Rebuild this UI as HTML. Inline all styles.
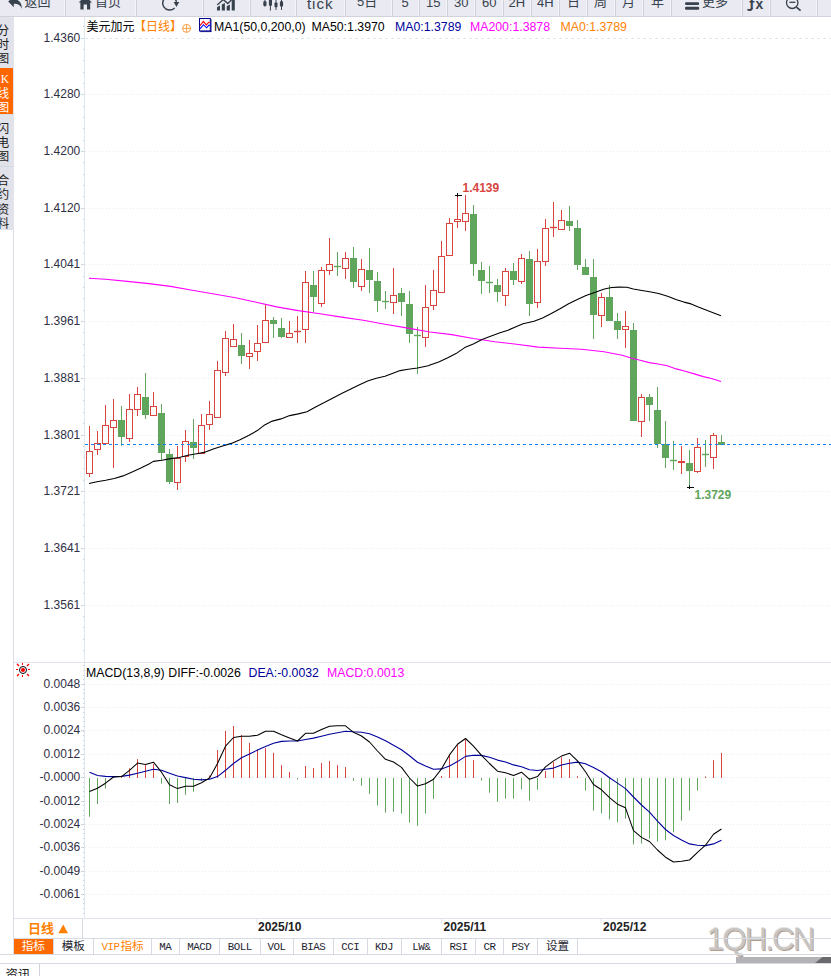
<!DOCTYPE html>
<html lang="zh-CN"><head><meta charset="utf-8"><title>美元加元 日线</title>
<style>
html,body{margin:0;padding:0;background:#fff;}
body{width:831px;height:976px;overflow:hidden;position:relative;font-family:"Liberation Sans", "Noto Sans CJK SC", sans-serif;}
#root{position:absolute;left:0;top:0;width:831px;height:976px;overflow:hidden;background:#fff;}
.abs{position:absolute;white-space:nowrap;}
svg.chart{position:absolute;left:0;top:0;}
.tb{position:absolute;left:0;top:0;width:831px;height:16px;background:#eaeaf2;border-bottom:1px solid #d2d2dc;overflow:hidden;}
.tb .sep{position:absolute;top:0;width:1px;height:17px;background:#d0d0da;box-shadow:-1px 0 0 #f4f4fa;}
.tb .t{position:absolute;font-size:13px;line-height:14px;color:#38424e;white-space:nowrap;}
.side{position:absolute;left:0;top:17px;width:14px;height:213px;background:#e2e2ea;overflow:hidden;}
.side .v{position:absolute;left:-3px;width:12px;font-family:"Liberation Sans", "Noto Sans CJK SC", sans-serif;font-size:12.2px;line-height:12px;color:#1c2430;text-align:center;}
.yl{position:absolute;left:30px;width:50.3px;text-align:right;font-size:12px;line-height:14px;color:#2f2f45;white-space:nowrap;}
.lg{position:absolute;top:19px;font-size:12.3px;line-height:16px;white-space:nowrap;color:#000;}
.ml{position:absolute;top:664.5px;font-size:12.3px;line-height:16px;white-space:nowrap;color:#000;}
.dt{position:absolute;top:919.5px;font-size:12px;line-height:14px;font-weight:bold;color:#222;white-space:nowrap;}
.tabs{z-index:2;position:absolute;left:14px;top:938px;height:15px;border-top:1px solid #d6dae2;border-bottom:1px solid #d6dae2;width:817px;}
.tab{position:absolute;top:0;height:15px;border-right:1px solid #d6dae2;box-sizing:border-box;text-align:center;font-family:"Liberation Mono", "Noto Serif CJK SC", monospace;font-size:10.8px;letter-spacing:-0.48px;line-height:16.8px;color:#1c2430;white-space:nowrap;background:#fff;}
.tab.cj{font-family:"Liberation Sans", "Noto Sans CJK SC", sans-serif;font-size:11.6px;letter-spacing:0;line-height:13.4px;}
</style></head><body><div id="root">
<div class="tb">
<div class="sep" style="left:65px"></div>
<div class="sep" style="left:136px"></div>
<div class="sep" style="left:203px"></div>
<div class="sep" style="left:250px"></div>
<div class="sep" style="left:296px"></div>
<div class="sep" style="left:345px"></div>
<div class="sep" style="left:392px"></div>
<div class="sep" style="left:419px"></div>
<div class="sep" style="left:447px"></div>
<div class="sep" style="left:475px"></div>
<div class="sep" style="left:503px"></div>
<div class="sep" style="left:531px"></div>
<div class="sep" style="left:559px"></div>
<div class="sep" style="left:587px"></div>
<div class="sep" style="left:615px"></div>
<div class="sep" style="left:643px"></div>
<div class="sep" style="left:671px"></div>
<div class="sep" style="left:742px"></div>
<div class="sep" style="left:770px"></div>
<div class="sep" style="left:817px"></div>
<div class="t" style="left:24.5px;top:-4.7px">返回</div>
<div class="t" style="left:95px;top:-4.7px">首页</div>
<div class="t" style="left:357px;top:-4.7px">5日</div>
<div class="t" style="left:567px;top:-4.7px">日</div>
<div class="t" style="left:594px;top:-4.7px">周</div>
<div class="t" style="left:622px;top:-4.7px">月</div>
<div class="t" style="left:651px;top:-4.7px">年</div>
<div class="t" style="left:702px;top:-4.7px">更多</div>
<div class="t" style="left:307px;top:-4.0px;font-size:15.2px;letter-spacing:0.9px;margin-top:0.5px;">tick</div>
<div class="t" style="left:401.5px;top:-4.0px;font-size:13px;">5</div>
<div class="t" style="left:426px;top:-4.0px;font-size:13px;">15</div>
<div class="t" style="left:454px;top:-4.0px;font-size:13px;">30</div>
<div class="t" style="left:482px;top:-4.0px;font-size:13px;">60</div>
<div class="t" style="left:508.5px;top:-4.0px;font-size:13px;">2H</div>
<div class="t" style="left:537px;top:-4.0px;font-size:13px;">4H</div>
<svg class="abs" style="left:0;top:0" width="831" height="16" viewBox="0 0 831 16">
<g fill="#38424e" stroke="none">
<!-- back arrow -->
<path d="M8.2 1.6 L13.8 -3.6 L13.8 -0.6 C18.5 -0.8 22 2.2 21.8 8.8 C20.6 5 17.8 3.6 13.8 3.8 L13.8 7.2 Z"/>
<!-- home -->
<path d="M78.6 2.6 L85.3 -4 L92 2.6 L90.2 2.6 L90.2 9.5 L87 9.5 L87 4.6 L83.6 4.6 L83.6 9.5 L80.4 9.5 L80.4 2.6 Z"/>
<!-- bar chart icon -->
<path d="M217 7.3L220 5.6V10.6H217Z"/><path d="M221.8 4.4L224.9 3V10.6H221.8Z"/><path d="M226.7 6.2L229.9 4.6V10.6H226.7Z"/><path d="M231.7 0.6L234.8 -1.4V10.6H231.7Z"/>
<path d="M216.8 4.6 L223.2 -1.4 L227.8 2.6 L234.4 -4 L235.4 -3 L227.8 4.4 L223.2 0.4 L217.6 5.6 Z"/>
<!-- candle icon -->
<rect x="263.3" y="1.2" width="3.2" height="4.9" rx="0.8"/><rect x="264.4" y="-6" width="1" height="12.7"/>
<rect x="268.9" y="-4" width="3.1" height="9.8" rx="0.8"/><rect x="269.9" y="-6" width="1" height="16.6"/>
<rect x="274.5" y="2.4" width="3" height="4.8" rx="0.8"/><rect x="275.5" y="-6" width="1" height="15.9"/>
<rect x="279.9" y="1.2" width="3.2" height="5.4" rx="0.8"/><rect x="281" y="-6" width="1" height="15.9"/>
<!-- more icon -->
<rect x="685" y="2.2" width="14.2" height="2.8" rx="1.3"/><rect x="685" y="6.7" width="14.2" height="3" rx="1.3"/>
</g>
<g fill="none" stroke="#38424e">
<!-- refresh -->
<path d="M174.6 8 A6.9 6.9 0 1 1 176.4 1.9" stroke-width="1.5"/>
<path d="M173.6 1.9 L179.2 1.9 L176.5 6.9 Z" fill="#38424e" stroke="none"/>
<path d="M751.8 8 C751.8 10.2 750 10.4 747.4 9.6" stroke-width="2"/>
<!-- zoom out -->
<circle cx="792.2" cy="2.8" r="5.7" stroke-width="1.3"/>
<path d="M796.4 7.2 L800.6 10.6" stroke-width="1.7"/>
<path d="M789.4 2.3 H795.4" stroke-width="1.3"/>
</g>
</svg>
<div class="t" style="left:749.2px;top:-3.3px;font-size:15px;font-weight:bold;">f</div>
<div class="t" style="left:755.4px;top:-1.6px;font-size:13.8px;font-weight:bold">x</div>
</div><div class="side">
<div class="abs" style="left:0;top:51px;width:13px;height:46px;background:#ff6600"></div>
<div class="abs" style="left:0;top:149px;width:14px;height:1px;background:#d3dae3"></div>
<div class="abs" style="left:0;top:97px;width:14px;height:1px;background:#d8dee6"></div>
<div class="v" style="top:7.7px;color:#222;">分</div>
<div class="v" style="top:21.900000000000002px;color:#222;">时</div>
<div class="v" style="top:35.7px;color:#222;">图</div>
<div class="v" style="top:70.7px;color:#fff;">线</div>
<div class="v" style="top:84.7px;color:#fff;">图</div>
<div class="v" style="top:55.8px;left:0.8px;width:7px;color:#fff;font-family:'Liberation Serif',serif;font-size:11.5px;">K</div>
<div class="v" style="top:105.7px;color:#222;">闪</div>
<div class="v" style="top:120.00000000000001px;color:#222;">电</div>
<div class="v" style="top:133.89999999999998px;color:#222;">图</div>
<div class="v" style="top:157.7px;color:#222;">合</div>
<div class="v" style="top:172.1px;color:#222;">约</div>
<div class="v" style="top:186.7px;color:#222;">资</div>
<div class="v" style="top:200.7px;color:#222;">料</div>
</div><svg class="chart" width="831" height="976" viewBox="0 0 831 976" shape-rendering="auto"><line x1="85" y1="38.5" x2="831" y2="38.5" stroke="#dfe8ee" stroke-width="1" stroke-dasharray="3 3"/>
<line x1="85" y1="94.5" x2="831" y2="94.5" stroke="#e8ecf0" stroke-width="1" stroke-dasharray="1 2"/>
<line x1="85" y1="151.5" x2="831" y2="151.5" stroke="#e8ecf0" stroke-width="1" stroke-dasharray="1 2"/>
<line x1="85" y1="208.5" x2="831" y2="208.5" stroke="#e8ecf0" stroke-width="1" stroke-dasharray="1 2"/>
<line x1="85" y1="264.5" x2="831" y2="264.5" stroke="#e8ecf0" stroke-width="1" stroke-dasharray="1 2"/>
<line x1="85" y1="321.5" x2="831" y2="321.5" stroke="#e8ecf0" stroke-width="1" stroke-dasharray="1 2"/>
<line x1="85" y1="378.5" x2="831" y2="378.5" stroke="#e8ecf0" stroke-width="1" stroke-dasharray="1 2"/>
<line x1="85" y1="435.5" x2="831" y2="435.5" stroke="#e8ecf0" stroke-width="1" stroke-dasharray="1 2"/>
<line x1="85" y1="491.5" x2="831" y2="491.5" stroke="#e8ecf0" stroke-width="1" stroke-dasharray="1 2"/>
<line x1="85" y1="548.5" x2="831" y2="548.5" stroke="#e8ecf0" stroke-width="1" stroke-dasharray="1 2"/>
<line x1="85" y1="605.5" x2="831" y2="605.5" stroke="#e8ecf0" stroke-width="1" stroke-dasharray="1 2"/>
<line x1="84.5" y1="17" x2="84.5" y2="918" stroke="#e0e8ef" stroke-width="1"/>
<line x1="13.5" y1="230" x2="13.5" y2="954" stroke="#d9dde5" stroke-width="1"/>
<line x1="81" y1="38.5" x2="84" y2="38.5" stroke="#d0d5dc" stroke-width="1"/>
<line x1="81" y1="94.5" x2="84" y2="94.5" stroke="#d0d5dc" stroke-width="1"/>
<line x1="81" y1="151.5" x2="84" y2="151.5" stroke="#d0d5dc" stroke-width="1"/>
<line x1="81" y1="208.5" x2="84" y2="208.5" stroke="#d0d5dc" stroke-width="1"/>
<line x1="81" y1="264.5" x2="84" y2="264.5" stroke="#d0d5dc" stroke-width="1"/>
<line x1="81" y1="321.5" x2="84" y2="321.5" stroke="#d0d5dc" stroke-width="1"/>
<line x1="81" y1="378.5" x2="84" y2="378.5" stroke="#d0d5dc" stroke-width="1"/>
<line x1="81" y1="435.5" x2="84" y2="435.5" stroke="#d0d5dc" stroke-width="1"/>
<line x1="81" y1="491.5" x2="84" y2="491.5" stroke="#d0d5dc" stroke-width="1"/>
<line x1="81" y1="548.5" x2="84" y2="548.5" stroke="#d0d5dc" stroke-width="1"/>
<line x1="81" y1="605.5" x2="84" y2="605.5" stroke="#d0d5dc" stroke-width="1"/>
<rect x="83" y="49" width="1" height="1" fill="#c5cbd3"/>
<rect x="83" y="60" width="1" height="1" fill="#c5cbd3"/>
<rect x="83" y="72" width="1" height="1" fill="#c5cbd3"/>
<rect x="83" y="83" width="1" height="1" fill="#c5cbd3"/>
<rect x="83" y="106" width="1" height="1" fill="#c5cbd3"/>
<rect x="83" y="117" width="1" height="1" fill="#c5cbd3"/>
<rect x="83" y="128" width="1" height="1" fill="#c5cbd3"/>
<rect x="83" y="140" width="1" height="1" fill="#c5cbd3"/>
<rect x="83" y="162" width="1" height="1" fill="#c5cbd3"/>
<rect x="83" y="174" width="1" height="1" fill="#c5cbd3"/>
<rect x="83" y="185" width="1" height="1" fill="#c5cbd3"/>
<rect x="83" y="196" width="1" height="1" fill="#c5cbd3"/>
<rect x="83" y="219" width="1" height="1" fill="#c5cbd3"/>
<rect x="83" y="230" width="1" height="1" fill="#c5cbd3"/>
<rect x="83" y="242" width="1" height="1" fill="#c5cbd3"/>
<rect x="83" y="253" width="1" height="1" fill="#c5cbd3"/>
<rect x="83" y="276" width="1" height="1" fill="#c5cbd3"/>
<rect x="83" y="287" width="1" height="1" fill="#c5cbd3"/>
<rect x="83" y="298" width="1" height="1" fill="#c5cbd3"/>
<rect x="83" y="310" width="1" height="1" fill="#c5cbd3"/>
<rect x="83" y="332" width="1" height="1" fill="#c5cbd3"/>
<rect x="83" y="344" width="1" height="1" fill="#c5cbd3"/>
<rect x="83" y="355" width="1" height="1" fill="#c5cbd3"/>
<rect x="83" y="366" width="1" height="1" fill="#c5cbd3"/>
<rect x="83" y="389" width="1" height="1" fill="#c5cbd3"/>
<rect x="83" y="400" width="1" height="1" fill="#c5cbd3"/>
<rect x="83" y="412" width="1" height="1" fill="#c5cbd3"/>
<rect x="83" y="423" width="1" height="1" fill="#c5cbd3"/>
<rect x="83" y="446" width="1" height="1" fill="#c5cbd3"/>
<rect x="83" y="457" width="1" height="1" fill="#c5cbd3"/>
<rect x="83" y="468" width="1" height="1" fill="#c5cbd3"/>
<rect x="83" y="480" width="1" height="1" fill="#c5cbd3"/>
<rect x="83" y="502" width="1" height="1" fill="#c5cbd3"/>
<rect x="83" y="514" width="1" height="1" fill="#c5cbd3"/>
<rect x="83" y="525" width="1" height="1" fill="#c5cbd3"/>
<rect x="83" y="536" width="1" height="1" fill="#c5cbd3"/>
<rect x="83" y="559" width="1" height="1" fill="#c5cbd3"/>
<rect x="83" y="570" width="1" height="1" fill="#c5cbd3"/>
<rect x="83" y="582" width="1" height="1" fill="#c5cbd3"/>
<rect x="83" y="593" width="1" height="1" fill="#c5cbd3"/>
<rect x="83" y="616" width="1" height="1" fill="#c5cbd3"/>
<rect x="83" y="627" width="1" height="1" fill="#c5cbd3"/>
<rect x="83" y="639" width="1" height="1" fill="#c5cbd3"/>
<rect x="83" y="650" width="1" height="1" fill="#c5cbd3"/>
<rect x="83" y="26" width="1" height="1" fill="#c5cbd3"/>
<line x1="89.5" y1="426.0" x2="89.5" y2="451.0" stroke="#d8453f" stroke-width="1"/>
<line x1="89.5" y1="474.0" x2="89.5" y2="477.0" stroke="#d8453f" stroke-width="1"/>
<rect x="86.5" y="451.5" width="6" height="22.0" fill="none" stroke="#d8453f" stroke-width="1"/>
<line x1="97.5" y1="431.0" x2="97.5" y2="443.0" stroke="#d8453f" stroke-width="1"/>
<line x1="97.5" y1="450.0" x2="97.5" y2="455.0" stroke="#d8453f" stroke-width="1"/>
<rect x="94.5" y="443.5" width="6" height="6.0" fill="none" stroke="#d8453f" stroke-width="1"/>
<line x1="105.5" y1="405.0" x2="105.5" y2="425.0" stroke="#d8453f" stroke-width="1"/>
<rect x="102.5" y="425.5" width="6" height="18.0" fill="none" stroke="#d8453f" stroke-width="1"/>
<line x1="113.5" y1="399.0" x2="113.5" y2="420.0" stroke="#d8453f" stroke-width="1"/>
<line x1="113.5" y1="428.0" x2="113.5" y2="468.0" stroke="#d8453f" stroke-width="1"/>
<rect x="110.5" y="420.5" width="6" height="7.0" fill="none" stroke="#d8453f" stroke-width="1"/>
<line x1="121.5" y1="406.0" x2="121.5" y2="446.0" stroke="#60a55c" stroke-width="1"/>
<rect x="118.0" y="420.0" width="7" height="17.0" fill="#60a55c"/>
<line x1="129.5" y1="394.0" x2="129.5" y2="409.0" stroke="#d8453f" stroke-width="1"/>
<line x1="129.5" y1="439.0" x2="129.5" y2="442.0" stroke="#d8453f" stroke-width="1"/>
<rect x="126.5" y="409.5" width="6" height="29.0" fill="none" stroke="#d8453f" stroke-width="1"/>
<line x1="137.5" y1="387.0" x2="137.5" y2="394.0" stroke="#d8453f" stroke-width="1"/>
<line x1="137.5" y1="410.0" x2="137.5" y2="416.0" stroke="#d8453f" stroke-width="1"/>
<rect x="134.5" y="394.5" width="6" height="15.0" fill="none" stroke="#d8453f" stroke-width="1"/>
<line x1="145.5" y1="373.0" x2="145.5" y2="419.0" stroke="#60a55c" stroke-width="1"/>
<rect x="142.0" y="397.0" width="7" height="18.0" fill="#60a55c"/>
<line x1="153.5" y1="392.0" x2="153.5" y2="406.0" stroke="#d8453f" stroke-width="1"/>
<rect x="150.5" y="406.5" width="6" height="9.0" fill="none" stroke="#d8453f" stroke-width="1"/>
<line x1="161.5" y1="404.0" x2="161.5" y2="460.0" stroke="#60a55c" stroke-width="1"/>
<rect x="158.0" y="413.0" width="7" height="40.0" fill="#60a55c"/>
<line x1="169.5" y1="449.0" x2="169.5" y2="484.0" stroke="#60a55c" stroke-width="1"/>
<rect x="166.0" y="454.0" width="7" height="28.0" fill="#60a55c"/>
<line x1="177.5" y1="446.0" x2="177.5" y2="458.0" stroke="#d8453f" stroke-width="1"/>
<line x1="177.5" y1="483.0" x2="177.5" y2="490.0" stroke="#d8453f" stroke-width="1"/>
<rect x="174.5" y="458.5" width="6" height="24.0" fill="none" stroke="#d8453f" stroke-width="1"/>
<line x1="185.5" y1="430.0" x2="185.5" y2="441.0" stroke="#d8453f" stroke-width="1"/>
<line x1="185.5" y1="457.0" x2="185.5" y2="462.0" stroke="#d8453f" stroke-width="1"/>
<rect x="182.5" y="441.5" width="6" height="15.0" fill="none" stroke="#d8453f" stroke-width="1"/>
<line x1="193.5" y1="419.0" x2="193.5" y2="459.0" stroke="#60a55c" stroke-width="1"/>
<rect x="190.0" y="442.0" width="7" height="6.0" fill="#60a55c"/>
<line x1="201.5" y1="414.0" x2="201.5" y2="425.0" stroke="#d8453f" stroke-width="1"/>
<rect x="198.5" y="425.5" width="6" height="28.0" fill="none" stroke="#d8453f" stroke-width="1"/>
<line x1="209.5" y1="401.0" x2="209.5" y2="414.0" stroke="#d8453f" stroke-width="1"/>
<line x1="209.5" y1="425.0" x2="209.5" y2="430.0" stroke="#d8453f" stroke-width="1"/>
<rect x="206.5" y="414.5" width="6" height="10.0" fill="none" stroke="#d8453f" stroke-width="1"/>
<line x1="217.5" y1="361.0" x2="217.5" y2="370.0" stroke="#d8453f" stroke-width="1"/>
<rect x="214.5" y="370.5" width="6" height="47.0" fill="none" stroke="#d8453f" stroke-width="1"/>
<line x1="225.5" y1="331.0" x2="225.5" y2="338.0" stroke="#d8453f" stroke-width="1"/>
<line x1="225.5" y1="373.0" x2="225.5" y2="376.0" stroke="#d8453f" stroke-width="1"/>
<rect x="222.5" y="338.5" width="6" height="34.0" fill="none" stroke="#d8453f" stroke-width="1"/>
<line x1="233.5" y1="324.0" x2="233.5" y2="339.0" stroke="#d8453f" stroke-width="1"/>
<rect x="230.5" y="339.5" width="6" height="7.0" fill="none" stroke="#d8453f" stroke-width="1"/>
<line x1="241.5" y1="333.0" x2="241.5" y2="364.0" stroke="#60a55c" stroke-width="1"/>
<rect x="238.0" y="345.0" width="7" height="11.0" fill="#60a55c"/>
<line x1="249.5" y1="340.0" x2="249.5" y2="353.0" stroke="#d8453f" stroke-width="1"/>
<line x1="249.5" y1="357.0" x2="249.5" y2="369.0" stroke="#d8453f" stroke-width="1"/>
<rect x="246.5" y="353.5" width="6" height="3.0" fill="none" stroke="#d8453f" stroke-width="1"/>
<line x1="257.5" y1="325.0" x2="257.5" y2="343.0" stroke="#d8453f" stroke-width="1"/>
<line x1="257.5" y1="352.0" x2="257.5" y2="361.0" stroke="#d8453f" stroke-width="1"/>
<rect x="254.5" y="343.5" width="6" height="8.0" fill="none" stroke="#d8453f" stroke-width="1"/>
<line x1="265.5" y1="305.0" x2="265.5" y2="320.0" stroke="#d8453f" stroke-width="1"/>
<rect x="262.5" y="320.5" width="6" height="22.0" fill="none" stroke="#d8453f" stroke-width="1"/>
<line x1="273.5" y1="317.0" x2="273.5" y2="338.0" stroke="#60a55c" stroke-width="1"/>
<rect x="270.0" y="320.0" width="7" height="4.0" fill="#60a55c"/>
<line x1="281.5" y1="318.0" x2="281.5" y2="338.0" stroke="#60a55c" stroke-width="1"/>
<rect x="278.0" y="328.0" width="7" height="9.0" fill="#60a55c"/>
<line x1="289.5" y1="321.0" x2="289.5" y2="333.0" stroke="#d8453f" stroke-width="1"/>
<rect x="286.5" y="333.5" width="6" height="4.0" fill="none" stroke="#d8453f" stroke-width="1"/>
<line x1="297.5" y1="316.0" x2="297.5" y2="343.0" stroke="#d8453f" stroke-width="1"/>
<line x1="294.0" y1="331.5" x2="301.0" y2="331.5" stroke="#d8453f" stroke-width="1.4"/>
<line x1="305.5" y1="271.0" x2="305.5" y2="282.0" stroke="#d8453f" stroke-width="1"/>
<line x1="305.5" y1="330.0" x2="305.5" y2="343.0" stroke="#d8453f" stroke-width="1"/>
<rect x="302.5" y="282.5" width="6" height="47.0" fill="none" stroke="#d8453f" stroke-width="1"/>
<line x1="313.5" y1="271.0" x2="313.5" y2="312.0" stroke="#60a55c" stroke-width="1"/>
<rect x="310.0" y="285.0" width="7" height="12.0" fill="#60a55c"/>
<line x1="321.5" y1="267.0" x2="321.5" y2="270.0" stroke="#d8453f" stroke-width="1"/>
<line x1="321.5" y1="304.0" x2="321.5" y2="307.0" stroke="#d8453f" stroke-width="1"/>
<rect x="318.5" y="270.5" width="6" height="33.0" fill="none" stroke="#d8453f" stroke-width="1"/>
<line x1="329.5" y1="238.0" x2="329.5" y2="264.0" stroke="#d8453f" stroke-width="1"/>
<line x1="329.5" y1="271.0" x2="329.5" y2="275.0" stroke="#d8453f" stroke-width="1"/>
<rect x="326.5" y="264.5" width="6" height="6.0" fill="none" stroke="#d8453f" stroke-width="1"/>
<line x1="337.5" y1="252.0" x2="337.5" y2="276.0" stroke="#60a55c" stroke-width="1"/>
<line x1="334.0" y1="266.5" x2="341.0" y2="266.5" stroke="#60a55c" stroke-width="1.4"/>
<line x1="345.5" y1="252.0" x2="345.5" y2="258.0" stroke="#d8453f" stroke-width="1"/>
<line x1="345.5" y1="269.0" x2="345.5" y2="279.0" stroke="#d8453f" stroke-width="1"/>
<rect x="342.5" y="258.5" width="6" height="10.0" fill="none" stroke="#d8453f" stroke-width="1"/>
<line x1="353.5" y1="247.0" x2="353.5" y2="288.0" stroke="#60a55c" stroke-width="1"/>
<rect x="350.0" y="258.0" width="7" height="24.0" fill="#60a55c"/>
<line x1="361.5" y1="259.0" x2="361.5" y2="269.0" stroke="#d8453f" stroke-width="1"/>
<line x1="361.5" y1="287.0" x2="361.5" y2="291.0" stroke="#d8453f" stroke-width="1"/>
<rect x="358.5" y="269.5" width="6" height="17.0" fill="none" stroke="#d8453f" stroke-width="1"/>
<line x1="369.5" y1="248.0" x2="369.5" y2="293.0" stroke="#60a55c" stroke-width="1"/>
<rect x="366.0" y="270.0" width="7" height="10.0" fill="#60a55c"/>
<line x1="377.5" y1="272.0" x2="377.5" y2="312.0" stroke="#60a55c" stroke-width="1"/>
<rect x="374.0" y="281.0" width="7" height="20.0" fill="#60a55c"/>
<line x1="385.5" y1="291.0" x2="385.5" y2="309.0" stroke="#60a55c" stroke-width="1"/>
<line x1="382.0" y1="301.5" x2="389.0" y2="301.5" stroke="#60a55c" stroke-width="1.4"/>
<line x1="393.5" y1="268.0" x2="393.5" y2="295.0" stroke="#d8453f" stroke-width="1"/>
<line x1="393.5" y1="303.0" x2="393.5" y2="314.0" stroke="#d8453f" stroke-width="1"/>
<rect x="390.5" y="295.5" width="6" height="7.0" fill="none" stroke="#d8453f" stroke-width="1"/>
<line x1="401.5" y1="288.0" x2="401.5" y2="316.0" stroke="#60a55c" stroke-width="1"/>
<rect x="398.0" y="293.0" width="7" height="9.0" fill="#60a55c"/>
<line x1="409.5" y1="291.0" x2="409.5" y2="343.0" stroke="#60a55c" stroke-width="1"/>
<rect x="406.0" y="304.0" width="7" height="30.0" fill="#60a55c"/>
<line x1="417.5" y1="327.0" x2="417.5" y2="374.0" stroke="#60a55c" stroke-width="1"/>
<line x1="414.0" y1="335.5" x2="421.0" y2="335.5" stroke="#60a55c" stroke-width="1.4"/>
<line x1="425.5" y1="285.0" x2="425.5" y2="307.0" stroke="#d8453f" stroke-width="1"/>
<line x1="425.5" y1="338.0" x2="425.5" y2="347.0" stroke="#d8453f" stroke-width="1"/>
<rect x="422.5" y="307.5" width="6" height="30.0" fill="none" stroke="#d8453f" stroke-width="1"/>
<line x1="433.5" y1="270.0" x2="433.5" y2="290.0" stroke="#d8453f" stroke-width="1"/>
<line x1="433.5" y1="306.0" x2="433.5" y2="310.0" stroke="#d8453f" stroke-width="1"/>
<rect x="430.5" y="290.5" width="6" height="15.0" fill="none" stroke="#d8453f" stroke-width="1"/>
<line x1="441.5" y1="241.0" x2="441.5" y2="256.0" stroke="#d8453f" stroke-width="1"/>
<rect x="438.5" y="256.5" width="6" height="36.0" fill="none" stroke="#d8453f" stroke-width="1"/>
<line x1="449.5" y1="218.0" x2="449.5" y2="223.0" stroke="#d8453f" stroke-width="1"/>
<rect x="446.5" y="223.5" width="6" height="32.0" fill="none" stroke="#d8453f" stroke-width="1"/>
<line x1="457.5" y1="195.0" x2="457.5" y2="219.0" stroke="#d8453f" stroke-width="1"/>
<line x1="457.5" y1="222.0" x2="457.5" y2="228.0" stroke="#d8453f" stroke-width="1"/>
<rect x="454.5" y="219.5" width="6" height="2.0" fill="none" stroke="#d8453f" stroke-width="1"/>
<line x1="465.5" y1="195.0" x2="465.5" y2="213.0" stroke="#d8453f" stroke-width="1"/>
<line x1="465.5" y1="222.0" x2="465.5" y2="231.0" stroke="#d8453f" stroke-width="1"/>
<rect x="462.5" y="213.5" width="6" height="8.0" fill="none" stroke="#d8453f" stroke-width="1"/>
<line x1="473.5" y1="205.0" x2="473.5" y2="276.0" stroke="#60a55c" stroke-width="1"/>
<rect x="470.0" y="214.0" width="7" height="50.0" fill="#60a55c"/>
<line x1="481.5" y1="262.0" x2="481.5" y2="294.0" stroke="#60a55c" stroke-width="1"/>
<rect x="478.0" y="270.0" width="7" height="11.0" fill="#60a55c"/>
<line x1="489.5" y1="266.0" x2="489.5" y2="293.0" stroke="#60a55c" stroke-width="1"/>
<line x1="486.0" y1="282.5" x2="493.0" y2="282.5" stroke="#60a55c" stroke-width="1.4"/>
<line x1="497.5" y1="279.0" x2="497.5" y2="302.0" stroke="#60a55c" stroke-width="1"/>
<rect x="494.0" y="285.0" width="7" height="7.0" fill="#60a55c"/>
<line x1="505.5" y1="268.0" x2="505.5" y2="271.0" stroke="#d8453f" stroke-width="1"/>
<line x1="505.5" y1="296.0" x2="505.5" y2="306.0" stroke="#d8453f" stroke-width="1"/>
<rect x="502.5" y="271.5" width="6" height="24.0" fill="none" stroke="#d8453f" stroke-width="1"/>
<line x1="513.5" y1="263.0" x2="513.5" y2="285.0" stroke="#60a55c" stroke-width="1"/>
<rect x="510.0" y="271.0" width="7" height="9.0" fill="#60a55c"/>
<line x1="521.5" y1="254.0" x2="521.5" y2="258.0" stroke="#d8453f" stroke-width="1"/>
<line x1="521.5" y1="282.0" x2="521.5" y2="284.0" stroke="#d8453f" stroke-width="1"/>
<rect x="518.5" y="258.5" width="6" height="23.0" fill="none" stroke="#d8453f" stroke-width="1"/>
<line x1="529.5" y1="251.0" x2="529.5" y2="316.0" stroke="#60a55c" stroke-width="1"/>
<rect x="526.0" y="259.0" width="7" height="45.0" fill="#60a55c"/>
<line x1="537.5" y1="249.0" x2="537.5" y2="261.0" stroke="#d8453f" stroke-width="1"/>
<line x1="537.5" y1="303.0" x2="537.5" y2="308.0" stroke="#d8453f" stroke-width="1"/>
<rect x="534.5" y="261.5" width="6" height="41.0" fill="none" stroke="#d8453f" stroke-width="1"/>
<line x1="545.5" y1="219.0" x2="545.5" y2="228.0" stroke="#d8453f" stroke-width="1"/>
<line x1="545.5" y1="262.0" x2="545.5" y2="266.0" stroke="#d8453f" stroke-width="1"/>
<rect x="542.5" y="228.5" width="6" height="33.0" fill="none" stroke="#d8453f" stroke-width="1"/>
<line x1="553.5" y1="202.0" x2="553.5" y2="237.0" stroke="#d8453f" stroke-width="1"/>
<line x1="550.0" y1="227.5" x2="557.0" y2="227.5" stroke="#d8453f" stroke-width="1.4"/>
<line x1="561.5" y1="210.0" x2="561.5" y2="220.0" stroke="#d8453f" stroke-width="1"/>
<rect x="558.5" y="220.5" width="6" height="9.0" fill="none" stroke="#d8453f" stroke-width="1"/>
<line x1="569.5" y1="206.0" x2="569.5" y2="231.0" stroke="#60a55c" stroke-width="1"/>
<rect x="566.0" y="221.0" width="7" height="5.0" fill="#60a55c"/>
<line x1="577.5" y1="220.0" x2="577.5" y2="270.0" stroke="#60a55c" stroke-width="1"/>
<rect x="574.0" y="228.0" width="7" height="37.0" fill="#60a55c"/>
<line x1="585.5" y1="259.0" x2="585.5" y2="275.0" stroke="#60a55c" stroke-width="1"/>
<rect x="582.0" y="267.0" width="7" height="8.0" fill="#60a55c"/>
<line x1="593.5" y1="259.0" x2="593.5" y2="339.0" stroke="#60a55c" stroke-width="1"/>
<rect x="590.0" y="277.0" width="7" height="38.0" fill="#60a55c"/>
<line x1="601.5" y1="293.0" x2="601.5" y2="297.0" stroke="#d8453f" stroke-width="1"/>
<line x1="601.5" y1="316.0" x2="601.5" y2="327.0" stroke="#d8453f" stroke-width="1"/>
<rect x="598.5" y="297.5" width="6" height="18.0" fill="none" stroke="#d8453f" stroke-width="1"/>
<line x1="609.5" y1="285.0" x2="609.5" y2="321.0" stroke="#60a55c" stroke-width="1"/>
<rect x="606.0" y="297.0" width="7" height="24.0" fill="#60a55c"/>
<line x1="617.5" y1="313.0" x2="617.5" y2="339.0" stroke="#60a55c" stroke-width="1"/>
<rect x="614.0" y="321.0" width="7" height="9.0" fill="#60a55c"/>
<line x1="625.5" y1="311.0" x2="625.5" y2="326.0" stroke="#d8453f" stroke-width="1"/>
<line x1="625.5" y1="330.0" x2="625.5" y2="348.0" stroke="#d8453f" stroke-width="1"/>
<rect x="622.5" y="326.5" width="6" height="3.0" fill="none" stroke="#d8453f" stroke-width="1"/>
<line x1="633.5" y1="323.0" x2="633.5" y2="421.0" stroke="#60a55c" stroke-width="1"/>
<rect x="630.0" y="330.0" width="7" height="91.0" fill="#60a55c"/>
<line x1="641.5" y1="394.0" x2="641.5" y2="397.0" stroke="#d8453f" stroke-width="1"/>
<line x1="641.5" y1="422.0" x2="641.5" y2="437.0" stroke="#d8453f" stroke-width="1"/>
<rect x="638.5" y="397.5" width="6" height="24.0" fill="none" stroke="#d8453f" stroke-width="1"/>
<line x1="649.5" y1="394.0" x2="649.5" y2="421.0" stroke="#60a55c" stroke-width="1"/>
<rect x="646.0" y="397.0" width="7" height="8.0" fill="#60a55c"/>
<line x1="657.5" y1="387.0" x2="657.5" y2="448.0" stroke="#60a55c" stroke-width="1"/>
<rect x="654.0" y="410.0" width="7" height="34.0" fill="#60a55c"/>
<line x1="665.5" y1="421.0" x2="665.5" y2="468.0" stroke="#60a55c" stroke-width="1"/>
<rect x="662.0" y="444.0" width="7" height="14.0" fill="#60a55c"/>
<line x1="673.5" y1="441.0" x2="673.5" y2="470.0" stroke="#60a55c" stroke-width="1"/>
<line x1="670.0" y1="460.5" x2="677.0" y2="460.5" stroke="#60a55c" stroke-width="1.4"/>
<line x1="681.5" y1="446.0" x2="681.5" y2="474.0" stroke="#d8453f" stroke-width="1"/>
<rect x="678.0" y="461.0" width="7" height="2.0" fill="#d8453f"/>
<line x1="689.5" y1="450.0" x2="689.5" y2="487.0" stroke="#60a55c" stroke-width="1"/>
<rect x="686.0" y="463.0" width="7" height="8.0" fill="#60a55c"/>
<line x1="697.5" y1="438.0" x2="697.5" y2="447.0" stroke="#d8453f" stroke-width="1"/>
<line x1="697.5" y1="472.0" x2="697.5" y2="473.0" stroke="#d8453f" stroke-width="1"/>
<rect x="694.5" y="447.5" width="6" height="24.0" fill="none" stroke="#d8453f" stroke-width="1"/>
<line x1="705.5" y1="440.0" x2="705.5" y2="467.0" stroke="#60a55c" stroke-width="1"/>
<line x1="702.0" y1="454.5" x2="709.0" y2="454.5" stroke="#60a55c" stroke-width="1.4"/>
<line x1="713.5" y1="433.0" x2="713.5" y2="435.0" stroke="#d8453f" stroke-width="1"/>
<line x1="713.5" y1="458.0" x2="713.5" y2="469.0" stroke="#d8453f" stroke-width="1"/>
<rect x="710.5" y="435.5" width="6" height="22.0" fill="none" stroke="#d8453f" stroke-width="1"/>
<line x1="721.5" y1="435.0" x2="721.5" y2="445.0" stroke="#60a55c" stroke-width="1"/>
<rect x="718.0" y="442.0" width="7" height="3.0" fill="#60a55c"/>
<polyline points="89.0,278.2 105.7,279.3 127.3,281.4 149.0,283.6 170.6,286.4 192.3,290.3 214.0,294.0 235.6,297.7 255.0,302.0 276.7,306.9 298.3,310.6 320.0,313.8 341.6,317.1 363.3,320.3 385.0,324.2 406.6,327.9 430.0,332.0 451.7,334.6 473.3,338.5 495.0,341.7 516.6,344.3 538.3,347.1 560.0,348.2 581.6,349.3 595.0,350.8 604.0,351.7 613.0,353.5 622.1,355.3 631.1,358.0 640.1,360.2 649.2,362.6 658.2,364.0 667.2,365.8 676.2,368.9 685.3,371.2 694.3,373.9 703.3,376.6 712.3,378.8 721.0,381.5" fill="none" stroke="#ff00ff" stroke-width="1.1" stroke-linejoin="round"/>
<polyline points="89.0,483.5 97.0,481.7 105.7,480.2 114.3,478.5 123.0,475.9 131.6,472.2 140.3,468.3 149.0,464.0 153.3,461.4 162.0,460.3 170.6,458.6 179.3,457.5 188.0,455.3 196.6,453.8 205.3,452.1 214.0,448.8 222.6,446.0 231.3,443.4 240.0,439.7 248.6,435.4 257.3,430.6 263.7,425.6 272.3,421.1 281.0,418.9 289.7,415.6 298.3,413.9 307.0,411.7 315.6,407.0 324.3,402.6 333.0,397.9 341.6,393.6 350.3,389.2 359.0,384.9 367.6,381.0 376.3,378.2 385.0,376.2 393.6,373.0 400.1,370.6 406.6,369.5 417.4,368.0 428.3,365.8 430.0,365.1 438.7,361.9 447.3,358.0 456.0,353.6 464.7,347.6 473.3,343.9 482.0,339.6 490.6,336.3 499.3,333.1 508.0,330.2 516.6,326.6 523.1,323.8 534.0,321.2 542.6,317.9 551.3,313.6 560.0,308.8 568.6,303.8 577.3,299.5 586.0,295.6 594.6,292.6 604.4,289.0 611.7,287.5 618.9,287.1 627.0,287.3 633.3,289.0 640.5,290.2 649.6,291.7 658.6,293.5 667.6,296.2 676.6,299.8 683.9,302.1 691.1,303.9 698.3,307.0 707.3,310.6 716.4,313.9 721.0,315.7" fill="none" stroke="#000000" stroke-width="1.1" stroke-linejoin="round"/>
<line x1="85" y1="444.5" x2="831" y2="444.5" stroke="#0f80ff" stroke-width="1.2" stroke-dasharray="3 3"/>
<path d="M455 195.5H462M457.5 193V197" stroke="#000" stroke-width="1" fill="none"/>
<path d="M687 487.5H694M689.5 485.5V489" stroke="#000" stroke-width="1" fill="none"/>
<line x1="14" y1="662.5" x2="831" y2="662.5" stroke="#dfe3ea" stroke-width="1"/>
<line x1="85" y1="684.5" x2="831" y2="684.5" stroke="#e8ecf0" stroke-width="1" stroke-dasharray="1 2"/>
<line x1="81" y1="684.5" x2="84" y2="684.5" stroke="#d0d5dc" stroke-width="1"/>
<line x1="85" y1="707.5" x2="831" y2="707.5" stroke="#e8ecf0" stroke-width="1" stroke-dasharray="1 2"/>
<line x1="81" y1="707.5" x2="84" y2="707.5" stroke="#d0d5dc" stroke-width="1"/>
<line x1="85" y1="730.5" x2="831" y2="730.5" stroke="#e8ecf0" stroke-width="1" stroke-dasharray="1 2"/>
<line x1="81" y1="730.5" x2="84" y2="730.5" stroke="#d0d5dc" stroke-width="1"/>
<line x1="85" y1="754.5" x2="831" y2="754.5" stroke="#e8ecf0" stroke-width="1" stroke-dasharray="1 2"/>
<line x1="81" y1="754.5" x2="84" y2="754.5" stroke="#d0d5dc" stroke-width="1"/>
<line x1="85" y1="777.5" x2="831" y2="777.5" stroke="#e8ecf0" stroke-width="1" stroke-dasharray="1 2"/>
<line x1="81" y1="777.5" x2="84" y2="777.5" stroke="#d0d5dc" stroke-width="1"/>
<line x1="85" y1="801.5" x2="831" y2="801.5" stroke="#e8ecf0" stroke-width="1" stroke-dasharray="1 2"/>
<line x1="81" y1="801.5" x2="84" y2="801.5" stroke="#d0d5dc" stroke-width="1"/>
<line x1="85" y1="824.5" x2="831" y2="824.5" stroke="#e8ecf0" stroke-width="1" stroke-dasharray="1 2"/>
<line x1="81" y1="824.5" x2="84" y2="824.5" stroke="#d0d5dc" stroke-width="1"/>
<line x1="85" y1="847.5" x2="831" y2="847.5" stroke="#e8ecf0" stroke-width="1" stroke-dasharray="1 2"/>
<line x1="81" y1="847.5" x2="84" y2="847.5" stroke="#d0d5dc" stroke-width="1"/>
<line x1="85" y1="871.5" x2="831" y2="871.5" stroke="#e8ecf0" stroke-width="1" stroke-dasharray="1 2"/>
<line x1="81" y1="871.5" x2="84" y2="871.5" stroke="#d0d5dc" stroke-width="1"/>
<line x1="85" y1="894.5" x2="831" y2="894.5" stroke="#e8ecf0" stroke-width="1" stroke-dasharray="1 2"/>
<line x1="81" y1="894.5" x2="84" y2="894.5" stroke="#d0d5dc" stroke-width="1"/>
<rect x="83" y="665" width="1" height="1" fill="#c5cbd3"/>
<rect x="83" y="670" width="1" height="1" fill="#c5cbd3"/>
<rect x="83" y="675" width="1" height="1" fill="#c5cbd3"/>
<rect x="83" y="679" width="1" height="1" fill="#c5cbd3"/>
<rect x="83" y="684" width="1" height="1" fill="#c5cbd3"/>
<rect x="83" y="689" width="1" height="1" fill="#c5cbd3"/>
<rect x="83" y="693" width="1" height="1" fill="#c5cbd3"/>
<rect x="83" y="698" width="1" height="1" fill="#c5cbd3"/>
<rect x="83" y="703" width="1" height="1" fill="#c5cbd3"/>
<rect x="83" y="707" width="1" height="1" fill="#c5cbd3"/>
<rect x="83" y="712" width="1" height="1" fill="#c5cbd3"/>
<rect x="83" y="717" width="1" height="1" fill="#c5cbd3"/>
<rect x="83" y="721" width="1" height="1" fill="#c5cbd3"/>
<rect x="83" y="726" width="1" height="1" fill="#c5cbd3"/>
<rect x="83" y="731" width="1" height="1" fill="#c5cbd3"/>
<rect x="83" y="735" width="1" height="1" fill="#c5cbd3"/>
<rect x="83" y="740" width="1" height="1" fill="#c5cbd3"/>
<rect x="83" y="745" width="1" height="1" fill="#c5cbd3"/>
<rect x="83" y="749" width="1" height="1" fill="#c5cbd3"/>
<rect x="83" y="754" width="1" height="1" fill="#c5cbd3"/>
<rect x="83" y="759" width="1" height="1" fill="#c5cbd3"/>
<rect x="83" y="763" width="1" height="1" fill="#c5cbd3"/>
<rect x="83" y="768" width="1" height="1" fill="#c5cbd3"/>
<rect x="83" y="773" width="1" height="1" fill="#c5cbd3"/>
<rect x="83" y="777" width="1" height="1" fill="#c5cbd3"/>
<rect x="83" y="782" width="1" height="1" fill="#c5cbd3"/>
<rect x="83" y="787" width="1" height="1" fill="#c5cbd3"/>
<rect x="83" y="791" width="1" height="1" fill="#c5cbd3"/>
<rect x="83" y="796" width="1" height="1" fill="#c5cbd3"/>
<rect x="83" y="801" width="1" height="1" fill="#c5cbd3"/>
<rect x="83" y="805" width="1" height="1" fill="#c5cbd3"/>
<rect x="83" y="810" width="1" height="1" fill="#c5cbd3"/>
<rect x="83" y="815" width="1" height="1" fill="#c5cbd3"/>
<rect x="83" y="819" width="1" height="1" fill="#c5cbd3"/>
<rect x="83" y="824" width="1" height="1" fill="#c5cbd3"/>
<rect x="83" y="829" width="1" height="1" fill="#c5cbd3"/>
<rect x="83" y="833" width="1" height="1" fill="#c5cbd3"/>
<rect x="83" y="838" width="1" height="1" fill="#c5cbd3"/>
<rect x="83" y="843" width="1" height="1" fill="#c5cbd3"/>
<rect x="83" y="847" width="1" height="1" fill="#c5cbd3"/>
<rect x="83" y="852" width="1" height="1" fill="#c5cbd3"/>
<rect x="83" y="857" width="1" height="1" fill="#c5cbd3"/>
<rect x="83" y="861" width="1" height="1" fill="#c5cbd3"/>
<rect x="83" y="866" width="1" height="1" fill="#c5cbd3"/>
<rect x="83" y="871" width="1" height="1" fill="#c5cbd3"/>
<rect x="83" y="875" width="1" height="1" fill="#c5cbd3"/>
<rect x="83" y="880" width="1" height="1" fill="#c5cbd3"/>
<rect x="83" y="885" width="1" height="1" fill="#c5cbd3"/>
<rect x="83" y="889" width="1" height="1" fill="#c5cbd3"/>
<rect x="83" y="894" width="1" height="1" fill="#c5cbd3"/>
<rect x="83" y="899" width="1" height="1" fill="#c5cbd3"/>
<rect x="83" y="903" width="1" height="1" fill="#c5cbd3"/>
<rect x="83" y="908" width="1" height="1" fill="#c5cbd3"/>
<rect x="83" y="913" width="1" height="1" fill="#c5cbd3"/>
<line x1="89.5" y1="778.0" x2="89.5" y2="816.7" stroke="#60a55c" stroke-width="1"/>
<line x1="97.5" y1="778.0" x2="97.5" y2="804.0" stroke="#60a55c" stroke-width="1"/>
<line x1="105.5" y1="778.0" x2="105.5" y2="788.6" stroke="#60a55c" stroke-width="1"/>
<line x1="113.5" y1="776.5" x2="113.5" y2="778.0" stroke="#d8453f" stroke-width="1"/>
<line x1="121.5" y1="776.5" x2="121.5" y2="778.0" stroke="#d8453f" stroke-width="1"/>
<line x1="129.5" y1="768.3" x2="129.5" y2="778.0" stroke="#d8453f" stroke-width="1"/>
<line x1="137.5" y1="759.1" x2="137.5" y2="778.0" stroke="#d8453f" stroke-width="1"/>
<line x1="145.5" y1="764.1" x2="145.5" y2="778.0" stroke="#d8453f" stroke-width="1"/>
<line x1="153.5" y1="764.1" x2="153.5" y2="778.0" stroke="#d8453f" stroke-width="1"/>
<line x1="161.5" y1="778.0" x2="161.5" y2="783.7" stroke="#60a55c" stroke-width="1"/>
<line x1="169.5" y1="778.0" x2="169.5" y2="804.0" stroke="#60a55c" stroke-width="1"/>
<line x1="177.5" y1="778.0" x2="177.5" y2="803.0" stroke="#60a55c" stroke-width="1"/>
<line x1="185.5" y1="778.0" x2="185.5" y2="794.9" stroke="#60a55c" stroke-width="1"/>
<line x1="193.5" y1="778.0" x2="193.5" y2="791.8" stroke="#60a55c" stroke-width="1"/>
<line x1="201.5" y1="778.0" x2="201.5" y2="780.9" stroke="#60a55c" stroke-width="1"/>
<line x1="209.5" y1="775.5" x2="209.5" y2="778.0" stroke="#d8453f" stroke-width="1"/>
<line x1="217.5" y1="750.0" x2="217.5" y2="778.0" stroke="#d8453f" stroke-width="1"/>
<line x1="225.5" y1="730.8" x2="225.5" y2="778.0" stroke="#d8453f" stroke-width="1"/>
<line x1="233.5" y1="726.0" x2="233.5" y2="778.0" stroke="#d8453f" stroke-width="1"/>
<line x1="241.5" y1="735.0" x2="241.5" y2="778.0" stroke="#d8453f" stroke-width="1"/>
<line x1="249.5" y1="742.9" x2="249.5" y2="778.0" stroke="#d8453f" stroke-width="1"/>
<line x1="257.5" y1="749.7" x2="257.5" y2="778.0" stroke="#d8453f" stroke-width="1"/>
<line x1="265.5" y1="748.1" x2="265.5" y2="778.0" stroke="#d8453f" stroke-width="1"/>
<line x1="273.5" y1="752.9" x2="273.5" y2="778.0" stroke="#d8453f" stroke-width="1"/>
<line x1="281.5" y1="765.1" x2="281.5" y2="778.0" stroke="#d8453f" stroke-width="1"/>
<line x1="289.5" y1="772.0" x2="289.5" y2="778.0" stroke="#d8453f" stroke-width="1"/>
<line x1="297.5" y1="778.0" x2="297.5" y2="779.5" stroke="#60a55c" stroke-width="1"/>
<line x1="305.5" y1="766.0" x2="305.5" y2="778.0" stroke="#d8453f" stroke-width="1"/>
<line x1="313.5" y1="768.0" x2="313.5" y2="778.0" stroke="#d8453f" stroke-width="1"/>
<line x1="321.5" y1="763.0" x2="321.5" y2="778.0" stroke="#d8453f" stroke-width="1"/>
<line x1="329.5" y1="761.0" x2="329.5" y2="778.0" stroke="#d8453f" stroke-width="1"/>
<line x1="337.5" y1="765.1" x2="337.5" y2="778.0" stroke="#d8453f" stroke-width="1"/>
<line x1="345.5" y1="767.0" x2="345.5" y2="778.0" stroke="#d8453f" stroke-width="1"/>
<line x1="353.5" y1="778.0" x2="353.5" y2="780.9" stroke="#60a55c" stroke-width="1"/>
<line x1="361.5" y1="778.0" x2="361.5" y2="785.7" stroke="#60a55c" stroke-width="1"/>
<line x1="369.5" y1="778.0" x2="369.5" y2="793.8" stroke="#60a55c" stroke-width="1"/>
<line x1="377.5" y1="778.0" x2="377.5" y2="805.5" stroke="#60a55c" stroke-width="1"/>
<line x1="385.5" y1="778.0" x2="385.5" y2="812.6" stroke="#60a55c" stroke-width="1"/>
<line x1="393.5" y1="778.0" x2="393.5" y2="811.7" stroke="#60a55c" stroke-width="1"/>
<line x1="401.5" y1="778.0" x2="401.5" y2="813.6" stroke="#60a55c" stroke-width="1"/>
<line x1="409.5" y1="778.0" x2="409.5" y2="822.6" stroke="#60a55c" stroke-width="1"/>
<line x1="417.5" y1="778.0" x2="417.5" y2="825.7" stroke="#60a55c" stroke-width="1"/>
<line x1="425.5" y1="778.0" x2="425.5" y2="813.6" stroke="#60a55c" stroke-width="1"/>
<line x1="433.5" y1="778.0" x2="433.5" y2="798.8" stroke="#60a55c" stroke-width="1"/>
<line x1="441.5" y1="776.0" x2="441.5" y2="778.0" stroke="#d8453f" stroke-width="1"/>
<line x1="449.5" y1="754.9" x2="449.5" y2="778.0" stroke="#d8453f" stroke-width="1"/>
<line x1="457.5" y1="743.9" x2="457.5" y2="778.0" stroke="#d8453f" stroke-width="1"/>
<line x1="465.5" y1="739.5" x2="465.5" y2="778.0" stroke="#d8453f" stroke-width="1"/>
<line x1="473.5" y1="760.1" x2="473.5" y2="778.0" stroke="#d8453f" stroke-width="1"/>
<line x1="481.5" y1="778.0" x2="481.5" y2="780.5" stroke="#60a55c" stroke-width="1"/>
<line x1="489.5" y1="778.0" x2="489.5" y2="792.8" stroke="#60a55c" stroke-width="1"/>
<line x1="497.5" y1="778.0" x2="497.5" y2="801.7" stroke="#60a55c" stroke-width="1"/>
<line x1="505.5" y1="778.0" x2="505.5" y2="798.6" stroke="#60a55c" stroke-width="1"/>
<line x1="513.5" y1="778.0" x2="513.5" y2="798.6" stroke="#60a55c" stroke-width="1"/>
<line x1="521.5" y1="778.0" x2="521.5" y2="789.5" stroke="#60a55c" stroke-width="1"/>
<line x1="529.5" y1="778.0" x2="529.5" y2="800.7" stroke="#60a55c" stroke-width="1"/>
<line x1="537.5" y1="778.0" x2="537.5" y2="789.8" stroke="#60a55c" stroke-width="1"/>
<line x1="545.5" y1="771.0" x2="545.5" y2="778.0" stroke="#d8453f" stroke-width="1"/>
<line x1="553.5" y1="762.1" x2="553.5" y2="778.0" stroke="#d8453f" stroke-width="1"/>
<line x1="561.5" y1="757.3" x2="561.5" y2="778.0" stroke="#d8453f" stroke-width="1"/>
<line x1="569.5" y1="759.0" x2="569.5" y2="778.0" stroke="#d8453f" stroke-width="1"/>
<line x1="577.5" y1="776.1" x2="577.5" y2="778.0" stroke="#d8453f" stroke-width="1"/>
<line x1="585.5" y1="778.0" x2="585.5" y2="790.5" stroke="#60a55c" stroke-width="1"/>
<line x1="593.5" y1="778.0" x2="593.5" y2="810.7" stroke="#60a55c" stroke-width="1"/>
<line x1="601.5" y1="778.0" x2="601.5" y2="813.4" stroke="#60a55c" stroke-width="1"/>
<line x1="609.5" y1="778.0" x2="609.5" y2="819.4" stroke="#60a55c" stroke-width="1"/>
<line x1="617.5" y1="778.0" x2="617.5" y2="822.3" stroke="#60a55c" stroke-width="1"/>
<line x1="625.5" y1="778.0" x2="625.5" y2="818.7" stroke="#60a55c" stroke-width="1"/>
<line x1="633.5" y1="778.0" x2="633.5" y2="844.4" stroke="#60a55c" stroke-width="1"/>
<line x1="641.5" y1="778.0" x2="641.5" y2="843.5" stroke="#60a55c" stroke-width="1"/>
<line x1="649.5" y1="778.0" x2="649.5" y2="838.7" stroke="#60a55c" stroke-width="1"/>
<line x1="657.5" y1="778.0" x2="657.5" y2="841.5" stroke="#60a55c" stroke-width="1"/>
<line x1="665.5" y1="778.0" x2="665.5" y2="840.3" stroke="#60a55c" stroke-width="1"/>
<line x1="673.5" y1="778.0" x2="673.5" y2="832.4" stroke="#60a55c" stroke-width="1"/>
<line x1="681.5" y1="778.0" x2="681.5" y2="820.6" stroke="#60a55c" stroke-width="1"/>
<line x1="689.5" y1="778.0" x2="689.5" y2="810.7" stroke="#60a55c" stroke-width="1"/>
<line x1="697.5" y1="778.0" x2="697.5" y2="790.5" stroke="#60a55c" stroke-width="1"/>
<line x1="705.5" y1="776.5" x2="705.5" y2="778.0" stroke="#d8453f" stroke-width="1"/>
<line x1="713.5" y1="760.2" x2="713.5" y2="778.0" stroke="#d8453f" stroke-width="1"/>
<line x1="721.5" y1="753.0" x2="721.5" y2="778.0" stroke="#d8453f" stroke-width="1"/>
<polyline points="89.5,772.2 97.5,775.5 105.5,776.4 113.5,776.6 121.5,776.4 129.5,775.1 137.5,773.2 145.5,771.2 153.5,769.3 161.5,770.3 169.5,773.2 177.5,776.0 185.5,777.6 193.5,779.3 201.5,779.9 209.5,779.3 217.5,776.6 225.5,770.3 233.5,763.5 241.5,757.8 249.5,753.9 257.5,750.1 265.5,746.6 273.5,743.3 281.5,741.4 289.5,741.0 297.5,741.0 305.5,739.5 313.5,738.1 321.5,736.2 329.5,734.3 337.5,732.7 345.5,731.2 353.5,731.8 361.5,732.2 369.5,733.7 377.5,737.0 385.5,740.8 393.5,745.2 401.5,749.7 409.5,755.8 417.5,762.2 425.5,766.0 433.5,769.3 441.5,768.9 449.5,766.0 457.5,761.6 465.5,756.4 473.5,755.3 481.5,755.4 489.5,757.2 497.5,760.1 505.5,762.0 513.5,764.9 521.5,766.8 529.5,769.7 537.5,770.5 545.5,769.3 553.5,768.1 561.5,765.0 569.5,763.3 577.5,762.1 585.5,763.8 593.5,767.4 601.5,771.7 609.5,777.8 617.5,783.1 625.5,788.6 633.5,797.0 641.5,805.0 649.5,812.2 657.5,821.1 665.5,829.5 673.5,835.5 681.5,839.9 689.5,843.9 697.5,845.2 705.5,845.6 713.5,843.9 721.5,840.3" fill="none" stroke="#00009c" stroke-width="1.1" stroke-linejoin="round"/>
<polyline points="89.5,791.5 97.5,788.2 105.5,783.2 113.5,777.0 121.5,776.6 129.5,770.3 137.5,763.1 145.5,764.5 153.5,762.2 161.5,772.2 169.5,784.7 177.5,788.6 185.5,786.3 193.5,786.3 201.5,782.8 209.5,778.0 217.5,763.5 225.5,746.2 233.5,737.5 241.5,736.2 249.5,736.2 257.5,735.2 265.5,731.2 273.5,731.2 281.5,734.7 289.5,737.9 297.5,741.0 305.5,733.3 313.5,733.3 321.5,729.5 329.5,726.2 337.5,725.8 345.5,725.8 353.5,732.3 361.5,736.0 369.5,742.0 377.5,751.0 385.5,759.3 393.5,762.0 401.5,767.4 409.5,778.0 417.5,786.1 425.5,783.8 433.5,779.3 441.5,768.9 449.5,754.9 457.5,744.3 465.5,738.5 473.5,746.2 481.5,755.4 489.5,763.5 497.5,771.2 505.5,772.8 513.5,775.5 521.5,772.2 529.5,779.3 537.5,776.6 545.5,766.9 553.5,760.9 561.5,756.1 569.5,753.2 577.5,760.9 585.5,771.7 593.5,784.5 601.5,789.8 609.5,797.7 617.5,804.2 625.5,807.8 633.5,830.7 641.5,837.4 649.5,841.5 657.5,850.0 665.5,857.2 673.5,862.0 681.5,861.3 689.5,860.0 697.5,852.4 705.5,845.2 713.5,834.3 721.5,829.0" fill="none" stroke="#000000" stroke-width="1.05" stroke-linejoin="round"/>
<line x1="14" y1="918.5" x2="831" y2="918.5" stroke="#dfe3ea" stroke-width="1"/>
<line x1="257" y1="918" x2="257" y2="923" stroke="#dfe3ea" stroke-width="1"/>
<line x1="441.5" y1="918" x2="441.5" y2="923" stroke="#dfe3ea" stroke-width="1"/>
<line x1="601" y1="918" x2="601" y2="923" stroke="#dfe3ea" stroke-width="1"/></svg><div class="yl" style="top:30.7px">1.4360</div>
<div class="yl" style="top:86.7px">1.4280</div>
<div class="yl" style="top:143.7px">1.4200</div>
<div class="yl" style="top:200.7px">1.4120</div>
<div class="yl" style="top:256.7px">1.4041</div>
<div class="yl" style="top:313.7px">1.3961</div>
<div class="yl" style="top:370.7px">1.3881</div>
<div class="yl" style="top:427.7px">1.3801</div>
<div class="yl" style="top:483.7px">1.3721</div>
<div class="yl" style="top:540.7px">1.3641</div>
<div class="yl" style="top:597.7px">1.3561</div>
<div class="yl" style="top:676.7px">0.0048</div>
<div class="yl" style="top:699.7px">0.0036</div>
<div class="yl" style="top:722.7px">0.0024</div>
<div class="yl" style="top:746.7px">0.0012</div>
<div class="yl" style="top:769.7px">-0.0000</div>
<div class="yl" style="top:793.7px">-0.0012</div>
<div class="yl" style="top:816.7px">-0.0024</div>
<div class="yl" style="top:839.7px">-0.0036</div>
<div class="yl" style="top:863.7px">-0.0049</div>
<div class="yl" style="top:886.7px">-0.0061</div>
<div class="lg" style="left:86.5px;font-size:12px">美元加元</div>
<div class="lg" style="left:134px;font-size:12px;color:#ff7f00">【日线】</div>
<svg class="abs" style="left:181px;top:23px" width="12" height="11" viewBox="0 0 12 11"><circle cx="5.6" cy="5.4" r="4" fill="none" stroke="#ff8a14" stroke-width="0.8"/><path d="M1.6 5.4H9.6M5.6 1.4V9.4" stroke="#ff8a14" stroke-width="0.75"/></svg>
<svg class="abs" style="left:199px;top:18px" width="13" height="15" viewBox="0 0 13 15"><rect x="0.5" y="0.5" width="10.8" height="12.4" fill="#fff" stroke="#000088" stroke-width="1"/><path d="M12 1.2V13.9M1.2 13.6H12.4" stroke="#000088" stroke-width="0.9" fill="none"/><polyline points="1,7.6 4.4,3.3 7.3,6.9 9.7,4.3 10.8,4.3" fill="none" stroke="#ff0000" stroke-width="1.1"/><polyline points="1,10.8 4.4,6.7 7.6,9.8 9.7,7.4 10.8,7.4" fill="none" stroke="#0000ff" stroke-width="1.1"/></svg>
<div class="lg" style="left:214px">MA1(50,0,200,0)</div>
<div class="lg" style="left:311.5px">MA50:1.3970</div>
<div class="lg" style="left:395px;color:#00009c">MA0:1.3789</div>
<div class="lg" style="left:470px;color:#ff00ff">MA200:1.3878</div>
<div class="lg" style="left:560.5px;color:#ff7f00">MA0:1.3789</div>
<div class="abs" style="left:462.5px;top:180.5px;font-size:12px;line-height:14px;font-weight:bold;color:#d8453f">1.4139</div>
<div class="abs" style="left:694.5px;top:487.5px;font-size:12px;line-height:14px;font-weight:bold;color:#60a55c">1.3729</div>
<div class="ml" style="left:86px">MACD(13,8,9)</div>
<div class="ml" style="left:168.3px">DIFF:-0.0026</div>
<div class="ml" style="left:248.5px;color:#00009c">DEA:-0.0032</div>
<div class="ml" style="left:327px;color:#ff00ff">MACD:0.0013</div>
<svg class="abs" style="left:15px;top:662px" width="16" height="16" viewBox="0 0 16 16"><path d="M7.5 1V3M7.5 13V15M1 7.5H3M13 7.5H15" stroke="#ff0000" stroke-width="1" fill="none"/><path d="M2 2L4 4M12 12L14 14M2 14L4 12M12 4L14 2" stroke="#ff0000" stroke-width="1.3" fill="none"/><circle cx="8" cy="8" r="3.5" fill="#fff" stroke="#000" stroke-width="1"/><circle cx="8" cy="8" r="2.05" fill="#ff0000"/></svg>
<div class="dt" style="left:258px">2025/10</div>
<div class="dt" style="left:443.5px">2025/11</div>
<div class="dt" style="left:603px">2025/12</div><div class="abs" style="left:14px;top:919px;width:69px;height:19px;border-right:1px solid #d6dae2;box-sizing:border-box"></div>
<div class="abs" style="left:28px;top:921px;font-size:13px;line-height:16px;font-weight:bold;color:#ff7f00">日线</div>
<svg class="abs" style="left:57.5px;top:924px" width="11" height="10" viewBox="0 0 11 10"><path d="M5.2 0.6L10 9.2H0.4Z" fill="#ff7f00"/></svg>
<div class="tabs">
<div class="tab cj" style="left:0px;width:39.5px;background:#ff6a00;color:#fff;">指标</div>
<div class="tab cj" style="left:39.5px;width:40.5px;">模板</div>
<div class="tab cj" style="left:80px;width:58px;color:#ff7f00;"><span style="font-family:'Liberation Mono',monospace;font-size:10.8px;letter-spacing:-0.48px;margin-right:1px">VIP</span>指标</div>
<div class="tab " style="left:138px;width:27.5px;">MA</div>
<div class="tab " style="left:165.5px;width:40.5px;">MACD</div>
<div class="tab " style="left:206px;width:40.5px;">BOLL</div>
<div class="tab " style="left:246.5px;width:33.0px;">VOL</div>
<div class="tab " style="left:279.5px;width:40.5px;">BIAS</div>
<div class="tab " style="left:320px;width:33.5px;">CCI</div>
<div class="tab " style="left:353.5px;width:34.0px;">KDJ</div>
<div class="tab " style="left:387.5px;width:40.5px;">LW&amp;</div>
<div class="tab " style="left:428px;width:34px;">RSI</div>
<div class="tab " style="left:462px;width:28px;">CR</div>
<div class="tab " style="left:490px;width:34px;">PSY</div>
<div class="tab cj" style="left:524px;width:40px;">设置</div>
</div>
<div class="abs" style="left:0;top:963px;width:831px;height:1px;background:#d6dae2"></div>
<div class="abs" style="left:0;top:954px;width:14px;height:1px;background:#d6dae2"></div>
<div class="abs" style="left:736px;top:957px;width:95px;height:6px;background:#b3b3b7"></div>
<svg class="abs" style="left:813px;top:956px" width="18" height="8" viewBox="0 0 18 8"><path d="M2 7L9.5 1H18V7Z" fill="#6a6a6e"/></svg>
<div class="abs" style="left:0;top:964px;width:40px;height:14px;border-right:1px solid #cfd3db;box-sizing:border-box;background:#fff"></div>
<div class="abs" style="left:5.5px;top:967.6px;font-size:12.5px;line-height:14px;color:#222">资讯</div>
<div class="abs" style="left:707px;top:922.2px;font-size:31px;line-height:36px;letter-spacing:-1.75px;color:#c7c5c3;z-index:0;text-shadow:0.8px 0.8px 0.3px #b39c8a,-0.6px -0.6px 0.2px #e4e4e6">1QH.CN</div></div></body></html>
